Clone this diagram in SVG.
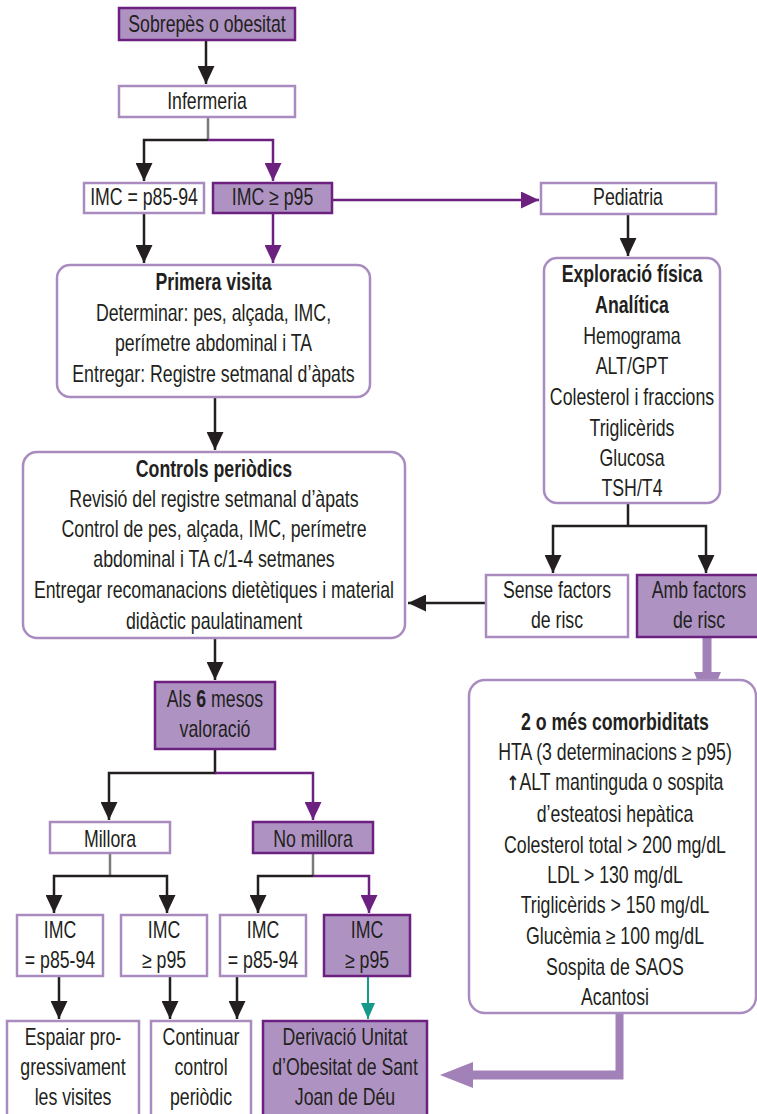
<svg xmlns="http://www.w3.org/2000/svg" width="757" height="1114" viewBox="0 0 757 1114">
<defs>
<style>
text{font-family:"Liberation Sans",Arial,sans-serif;font-size:23px;fill:#231f20;text-anchor:middle}
.b{font-weight:bold}
.ar{font-family:"DejaVu Sans",sans-serif;font-weight:bold;fill:#231f20}
.lt{fill:#fff;stroke:#a98bc0;stroke-width:2.5}
.dk{fill:#ae93c2;stroke:#6c2180;stroke-width:2.5}
.c{fill:none;stroke-width:2.5}
.k{stroke:#231f20}
.g{stroke:#7a7a7a}
.p{stroke:#6c2180}
.t{stroke:#15998b;stroke-width:2}
.thick{fill:#a181b8}
</style>
<marker id="ak" markerUnits="userSpaceOnUse" markerWidth="18" markerHeight="17" refX="18" refY="8.5" orient="auto"><path d="M0,0 L18,8.5 L0,17 z" fill="#231f20"/></marker>
<marker id="ap" markerUnits="userSpaceOnUse" markerWidth="18" markerHeight="17" refX="18" refY="8.5" orient="auto"><path d="M0,0 L18,8.5 L0,17 z" fill="#6c2180"/></marker>
<marker id="at" markerUnits="userSpaceOnUse" markerWidth="16" markerHeight="14" refX="16" refY="7" orient="auto"><path d="M0,0 L16,7 L0,14 z" fill="#15998b"/></marker>
</defs>

<g id="connectors">
<path class="c k" d="M206,40 V84" marker-end="url(#ak)"/>
<path class="c g" d="M208,117 V140"/>
<path class="c k" d="M208,140 H144 V181" marker-end="url(#ak)"/>
<path class="c p" d="M208,140 H273 V181" marker-end="url(#ap)"/>
<path class="c p" d="M332,200 H539" marker-end="url(#ap)"/>
<path class="c k" d="M144,213 V263" marker-end="url(#ak)"/>
<path class="c p" d="M273,213 V263" marker-end="url(#ap)"/>
<path class="c k" d="M215,397 V450" marker-end="url(#ak)"/>
<path class="c k" d="M628,214 V256" marker-end="url(#ak)"/>
<path class="c k" d="M628,503 V526"/>
<path class="c k" d="M628,526 H553 V573" marker-end="url(#ak)"/>
<path class="c k" d="M628,526 H706 V573" marker-end="url(#ak)"/>
<path class="c k" d="M486,603 H408" marker-end="url(#ak)"/>
<path class="c k" d="M215,638 V680" marker-end="url(#ak)"/>
<path class="c k" d="M215,749 V773 H109 V820" marker-end="url(#ak)"/>
<path class="c p" d="M215,773 H313 V820" marker-end="url(#ap)"/>
<path class="c g" d="M110,853 V876"/>
<path class="c k" d="M110,876 H54 V913" marker-end="url(#ak)"/>
<path class="c k" d="M110,876 H167 V913" marker-end="url(#ak)"/>
<path class="c g" d="M313,853 V876"/>
<path class="c k" d="M313,876 H258 V913" marker-end="url(#ak)"/>
<path class="c p" d="M313,876 H369 V913" marker-end="url(#ap)"/>
<path class="c k" d="M59,976 V1019" marker-end="url(#ak)"/>
<path class="c k" d="M170,976 V1019" marker-end="url(#ak)"/>
<path class="c k" d="M237,976 V1019" marker-end="url(#ak)"/>
<path class="c t" d="M368,976 V1019" marker-end="url(#at)"/>
<path class="thick" d="M702.5,637 H711.5 V672 H721 L707,705 L694,672 H702.5 Z"/>
<path class="thick" d="M615.5,1013 H623.5 V1079.5 H473 V1088 L440,1075 L473,1062 V1070.5 H615.5 Z"/>
</g>

<g id="n-sobrepes"><rect class="dk" x="119" y="8" width="176" height="32"/><text transform="translate(207,32) scale(0.77,1)">Sobrepès o obesitat</text></g>
<g id="n-infermeria"><rect class="lt" x="119" y="86" width="176" height="31"/><text transform="translate(207,109) scale(0.77,1)">Infermeria</text></g>
<g id="n-imc1"><rect class="lt" x="84" y="183" width="120" height="30"/><text transform="translate(144,205) scale(0.77,1)">IMC = p85-94</text></g>
<g id="n-imc2"><rect class="dk" x="213" y="183" width="119" height="30"/><text transform="translate(272.5,205) scale(0.77,1)">IMC ≥ p95</text></g>
<g id="n-pediatria"><rect class="lt" x="541" y="183" width="175" height="31"/><text transform="translate(628,205) scale(0.77,1)">Pediatria</text></g>

<g id="n-primera"><rect class="lt" x="57" y="265" width="313" height="132" rx="13"/>
<text class="b" transform="translate(213.5,290) scale(0.77,1)">Primera visita</text>
<text transform="translate(213.5,321) scale(0.77,1)">Determinar: pes, alçada, IMC,</text>
<text transform="translate(213.5,351) scale(0.77,1)">perímetre abdominal i TA</text>
<text transform="translate(213.5,382) scale(0.77,1)">Entregar: Registre setmanal d’àpats</text></g>

<g id="n-controls"><rect class="lt" x="23" y="452" width="382" height="186" rx="14"/>
<text class="b" transform="translate(214,477) scale(0.77,1)">Controls periòdics</text>
<text transform="translate(214,507) scale(0.77,1)">Revisió del registre setmanal d’àpats</text>
<text transform="translate(214,537) scale(0.77,1)">Control de pes, alçada, IMC, perímetre</text>
<text transform="translate(214,567) scale(0.77,1)">abdominal i TA c/1-4 setmanes</text>
<text transform="translate(214,598) scale(0.77,1)">Entregar recomanacions dietètiques i material</text>
<text transform="translate(214,629) scale(0.77,1)">didàctic paulatinament</text></g>

<g id="n-exploracio"><rect class="lt" x="544" y="258" width="176" height="245" rx="13"/>
<text class="b" transform="translate(632,282) scale(0.77,1)">Exploració física</text>
<text class="b" transform="translate(632,313) scale(0.77,1)">Analítica</text>
<text transform="translate(632,344) scale(0.77,1)">Hemograma</text>
<text transform="translate(632,374) scale(0.77,1)">ALT/GPT</text>
<text transform="translate(632,405) scale(0.77,1)">Colesterol i fraccions</text>
<text transform="translate(632,436) scale(0.77,1)">Triglicèrids</text>
<text transform="translate(632,466) scale(0.77,1)">Glucosa</text>
<text transform="translate(632,496) scale(0.77,1)">TSH/T4</text></g>

<g id="n-sense"><rect class="lt" x="486" y="575" width="142" height="62"/><text transform="translate(557,598) scale(0.77,1)">Sense factors</text><text transform="translate(557,628) scale(0.77,1)">de risc</text></g>
<g id="n-amb"><rect class="dk" x="637" y="575" width="125" height="62"/><text transform="translate(699,598) scale(0.77,1)">Amb factors</text><text transform="translate(699,628) scale(0.77,1)">de risc</text></g>

<g id="n-comorb"><rect class="lt" x="469" y="680" width="287" height="333" rx="16"/>
<text class="b" transform="translate(615,730) scale(0.77,1)">2 o més comorbiditats</text>
<text transform="translate(615,760) scale(0.77,1)">HTA (3 determinacions ≥ p95)</text>
<text transform="translate(615,790) scale(0.77,1)"><tspan class="ar" font-size="20">↑</tspan>ALT mantinguda o sospita</text>
<text transform="translate(615,822) scale(0.77,1)">d’esteatosi hepàtica</text>
<text transform="translate(615,853) scale(0.77,1)">Colesterol total &gt; 200 mg/dL</text>
<text transform="translate(615,883) scale(0.77,1)">LDL &gt; 130 mg/dL</text>
<text transform="translate(615,913) scale(0.77,1)">Triglicèrids &gt; 150 mg/dL</text>
<text transform="translate(615,944) scale(0.77,1)">Glucèmia ≥ 100 mg/dL</text>
<text transform="translate(615,975) scale(0.77,1)">Sospita de SAOS</text>
<text transform="translate(615,1005) scale(0.77,1)">Acantosi</text></g>

<g id="n-6mesos"><rect class="dk" x="155" y="682" width="120" height="67"/><text transform="translate(215,707) scale(0.77,1)">Als <tspan class="b">6</tspan> mesos</text><text transform="translate(215,737) scale(0.77,1)">valoració</text></g>
<g id="n-millora"><rect class="lt" x="50" y="822" width="120" height="31"/><text transform="translate(110,847) scale(0.77,1)">Millora</text></g>
<g id="n-nomillora"><rect class="dk" x="253" y="822" width="120" height="31"/><text transform="translate(313,847) scale(0.77,1)">No millora</text></g>

<g id="n-imc3"><rect class="lt" x="17" y="915" width="86" height="61"/><text transform="translate(60,938) scale(0.77,1)">IMC</text><text transform="translate(60,968) scale(0.77,1)">= p85-94</text></g>
<g id="n-imc4"><rect class="lt" x="121" y="915" width="86" height="61"/><text transform="translate(164,938) scale(0.77,1)">IMC</text><text transform="translate(164,968) scale(0.77,1)">≥ p95</text></g>
<g id="n-imc5"><rect class="lt" x="220" y="915" width="86" height="61"/><text transform="translate(263,938) scale(0.77,1)">IMC</text><text transform="translate(263,968) scale(0.77,1)">= p85-94</text></g>
<g id="n-imc6"><rect class="dk" x="324" y="915" width="86" height="61"/><text transform="translate(367,938) scale(0.77,1)">IMC</text><text transform="translate(367,968) scale(0.77,1)">≥ p95</text></g>

<g id="n-espaiar"><rect class="lt" x="7" y="1021" width="132" height="100"/><text transform="translate(73,1045) scale(0.77,1)">Espaiar pro-</text><text transform="translate(73,1075) scale(0.77,1)">gressivament</text><text transform="translate(73,1105) scale(0.77,1)">les visites</text></g>
<g id="n-continuar"><rect class="lt" x="151" y="1021" width="100" height="100"/><text transform="translate(201,1045) scale(0.77,1)">Continuar</text><text transform="translate(201,1075) scale(0.77,1)">control</text><text transform="translate(201,1105) scale(0.77,1)">periòdic</text></g>
<g id="n-derivacio"><rect class="dk" x="263" y="1021" width="164" height="100"/><text transform="translate(345,1045) scale(0.77,1)">Derivació Unitat</text><text transform="translate(345,1075) scale(0.77,1)">d’Obesitat de Sant</text><text transform="translate(345,1105) scale(0.77,1)">Joan de Déu</text></g>
</svg>
